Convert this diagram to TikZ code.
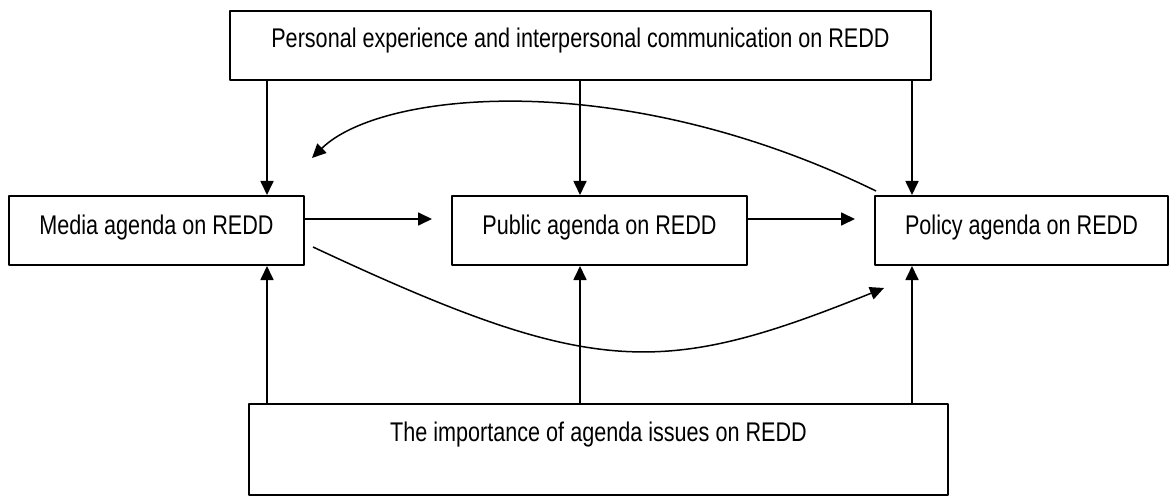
\documentclass[tikz,border=0pt]{standalone}
\usepackage{fontspec}
\setmainfont{Liberation Sans}[FakeStretch=0.8]
\usetikzlibrary{arrows.meta}
\begin{document}
\begin{tikzpicture}[x=1pt, y=1pt, >={Triangle[length=14pt,width=13pt]}, line join=round,
    font=\fontsize{27}{32}\selectfont,
    agenda/.style={draw, line width=2pt, minimum height=69pt, inner sep=0pt, text height=20pt, text depth=11.6pt},
    link/.style={->, line width=1.7pt}]
    \useasboundingbox (0,0) rectangle (1170,496);
    % boxes
    \node[agenda, minimum width=701pt, text depth=15.6pt] (personal) at (580.5,450.5) {Personal experience and interpersonal communication on REDD};
    \node[agenda, minimum width=295pt] (media) at (156.5,265.5) {Media agenda on REDD};
    \node[agenda, minimum width=295pt] (public) at (599.5,265.5) {Public agenda on REDD};
    \node[agenda, minimum width=293pt] (policy) at (1021.5,265.5) {Policy agenda on REDD};
    \node[agenda, minimum width=699pt, minimum height=91pt, text depth=35.6pt] (issues) at (598.5,46.5) {The importance of agenda issues on REDD};
    % vertical links
    \foreach \col/\target in {267/media, 580/public, 912/policy}{
        \draw[link] (personal.south -| \col,0) -- (\target.north -| \col,0);
        \draw[link] (issues.north -| \col,0) -- (\target.south -| \col,0);
    }
    % horizontal links
    \draw[link, shorten >=19pt] ([yshift=11.5pt]media.east) -- ([yshift=11.5pt]public.west);
    \draw[link, shorten >=19pt] ([yshift=11.5pt]public.east) -- ([yshift=11.5pt]policy.west);
    % curved links
    \draw[link, line width=1.5pt] ([shift={(2pt,4pt)}]policy.north west) .. controls (620,430) and (380,405) .. ([shift={(7pt,37pt)}]media.north east);
    \draw[link, line width=1.5pt] ([shift={(8pt,19pt)}]media.south east) .. controls (593,118) and (661,118) .. ([shift={(10pt,-22pt)}]policy.south west);
\end{tikzpicture}
\end{document}
